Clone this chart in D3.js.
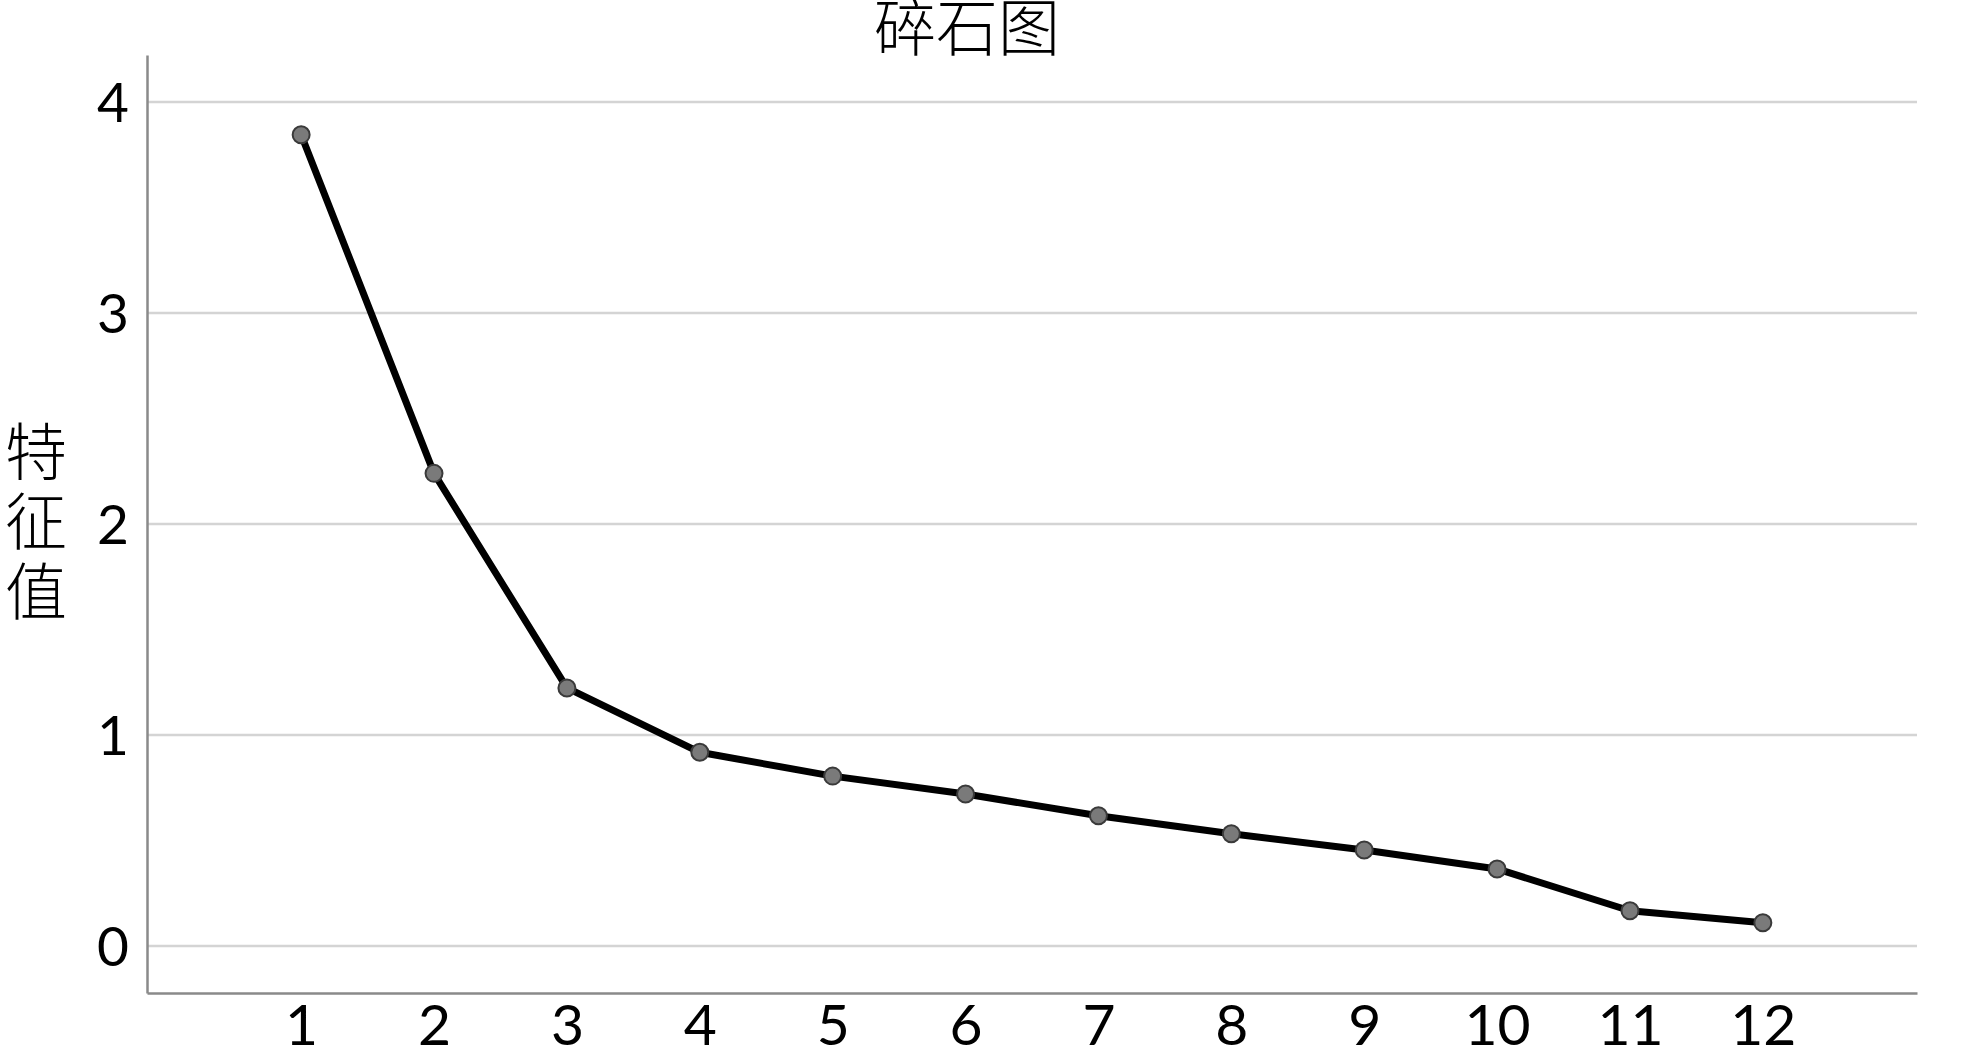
<!DOCTYPE html>
<html>
<head>
<meta charset="utf-8">
<script src="https://cdn.jsdelivr.net/npm/d3@7"></script>
<style>
  html, body { margin: 0; padding: 0; background: #fff; }
  svg { display: block; }
</style>
</head>
<body>
<svg id="chart" width="1969" height="1054"></svg>
<script>
const components = [1, 2, 3, 4, 5, 6, 7, 8, 9, 10, 11, 12];
const eigenvalues = [3.845, 2.240, 1.223, 0.918, 0.805, 0.720, 0.617, 0.532, 0.455, 0.365, 0.167, 0.110];
const yTicks = [0, 1, 2, 3, 4];
const titleText = "碎石图";
const yTitle = "特征值";

const svg = d3.select("#chart");
const plotLeft = 147, plotRight = 1917, plotTop = 55, plotBottom = 993;

const x = d3.scalePoint().domain(components).range([plotLeft, plotRight]).padding(1.16);
const y = d3.scaleLinear().domain([-0.223, 4.223]).range([plotBottom, plotTop]);

// gridlines
svg.append("g").selectAll("line").data(yTicks).join("line")
  .attr("x1", plotLeft).attr("x2", plotRight)
  .attr("y1", d => y(d)).attr("y2", d => y(d))
  .attr("stroke", "#d4d4d4").attr("stroke-width", 2.5);

// Y axis
const yAxis = svg.append("g").attr("transform", `translate(${plotLeft},0)`)
  .call(d3.axisLeft(y).tickValues(yTicks).tickSize(0).tickPadding(18).tickFormat(d3.format("d")));
yAxis.select(".domain").attr("stroke", "#8a8a8a").attr("stroke-width", 2.5);
yAxis.selectAll("text").attr("font-family", "Lato, 'Noto Sans', sans-serif")
  .attr("font-size", 55).attr("fill", "#000").attr("dy", "0.36em");

// X axis
const xAxis = svg.append("g").attr("transform", `translate(0,${plotBottom})`)
  .call(d3.axisBottom(x).tickSize(0).tickPadding(12));
xAxis.select(".domain").attr("stroke", "#8a8a8a").attr("stroke-width", 2.5);
xAxis.selectAll("text").attr("font-family", "Lato, 'Noto Sans', sans-serif")
  .attr("font-size", 57).attr("fill", "#000");

// line
const line = d3.line().x((d, i) => x(components[i])).y(d => y(d));
svg.append("path").datum(eigenvalues)
  .attr("d", line).attr("fill", "none")
  .attr("stroke", "#000").attr("stroke-width", 7).attr("stroke-linejoin", "round");

// points
svg.append("g").selectAll("circle").data(eigenvalues).join("circle")
  .attr("cx", (d, i) => x(components[i])).attr("cy", d => y(d))
  .attr("r", 8.5).attr("fill", "#7a7a7a").attr("stroke", "#3a3a3a").attr("stroke-width", 2);

// title
svg.append("text").attr("x", 967).attr("y", 51)
  .attr("text-anchor", "middle")
  .attr("font-family", "'Noto Sans CJK SC', sans-serif")
  .attr("font-size", 62).attr("font-weight", 300).attr("fill", "#000")
  .text(titleText);

// y title (vertical, stacked characters)
svg.append("text").attr("x", 36).attr("y", 420)
  .style("writing-mode", "vertical-rl")
  .style("text-orientation", "upright")
  .attr("letter-spacing", 8)
  .attr("font-family", "'Noto Sans CJK SC', sans-serif")
  .attr("font-size", 62).attr("font-weight", 300).attr("fill", "#000")
  .text(yTitle);
</script>
</body>
</html>
